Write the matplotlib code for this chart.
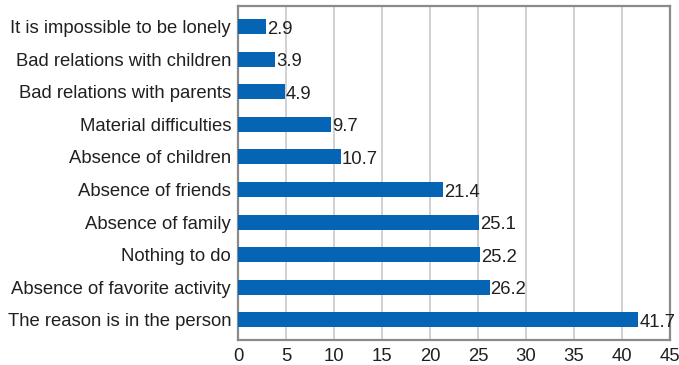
import matplotlib
matplotlib.use("Agg")
import matplotlib.pyplot as plt

categories = [
    "The reason is in the person",
    "Absence of favorite activity",
    "Nothing to do",
    "Absence of family",
    "Absence of friends",
    "Absence of children",
    "Material difficulties",
    "Bad relations with parents",
    "Bad relations with children",
    "It is impossible to be lonely",
]
values = [41.7, 26.2, 25.2, 25.1, 21.4, 10.7, 9.7, 4.9, 3.9, 2.9]
xticks = [0, 5, 10, 15, 20, 25, 30, 35, 40, 45]

plt.rcParams["font.family"] = ["Liberation Sans", "DejaVu Sans"]
text_color = "#231f20"
bar_color = "#0564b3"
fs = 13.3

fig = plt.figure(figsize=(6.79, 3.65), dpi=100)
ax = fig.add_axes([238 / 679, 1 - 340 / 365, 432 / 679, 334 / 365])

pos = list(range(len(categories)))
ax.barh(pos, values, height=0.46, color=bar_color, zorder=3)
for y, v in zip(pos, values):
    ax.text(v + 0.1, y - 0.08, f"{v}", va="center", ha="left", fontsize=fs,
            color=text_color, zorder=4)

ax.set_xlim(0, 45)
ax.set_ylim(-0.62, 9.63)
ax.set_xticks(xticks)
ax.set_xticklabels([str(t) for t in xticks], fontsize=fs, color=text_color)
ax.set_yticks(pos)
ax.set_yticklabels(categories, fontsize=fs, color=text_color)
ax.tick_params(axis="both", length=0)
ax.tick_params(axis="x", pad=6)
ax.tick_params(axis="y", pad=5)
ax.grid(axis="x", color="#c9c9c9", linewidth=1.2, zorder=0)
for s in ax.spines.values():
    s.set_color("#8a8a8a")
    s.set_linewidth(1.6)

fig.savefig("out.png", dpi=100)
